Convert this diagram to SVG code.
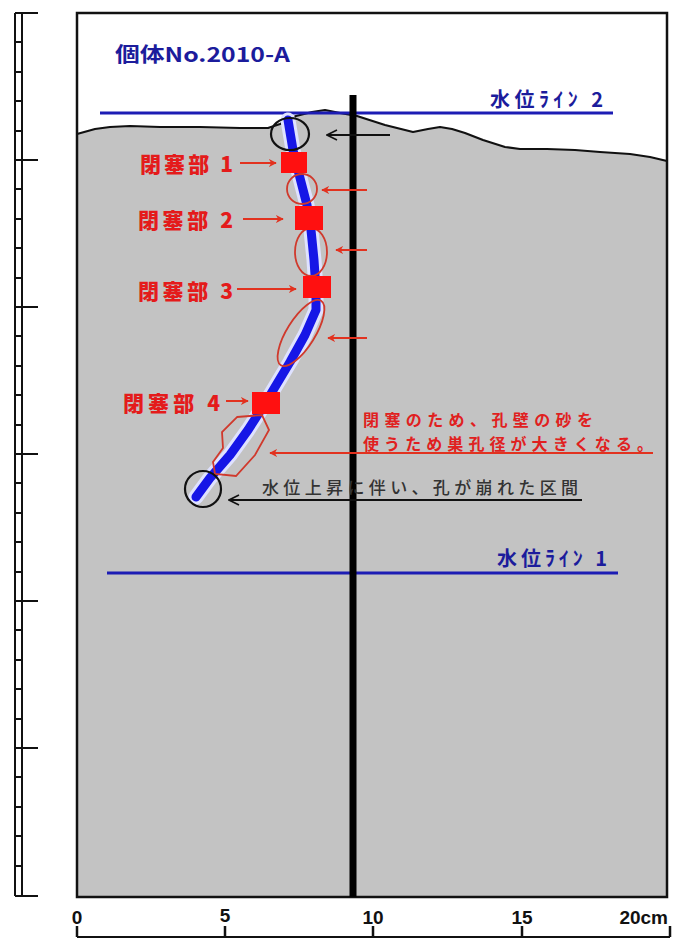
<svg xmlns="http://www.w3.org/2000/svg" width="675" height="940" viewBox="0 0 675 940">
  <style>
    .cjk { font-family: "Noto Sans CJK JP", "Noto Sans", sans-serif; }
    .num { font-family: "Liberation Sans", Arial, sans-serif; font-weight: bold; font-size: 19px; fill: #111; }
    .blue-lbl { fill: #1c1c9c; font-weight: bold; font-size: 20px; }
    .red-lbl { fill: #e41b1b; font-weight: 900; font-size: 21px; }
    .red-note { fill: #e02020; font-weight: bold; font-size: 16px; }
    .black-note { fill: #333; font-weight: 500; font-size: 17px; }
    .ruler { stroke: #111; stroke-width: 2; fill: none; }
    .wl { stroke: #1c1cb4; stroke-width: 3; }
    .red-ring { fill: none; stroke: #d0392c; stroke-width: 1.8; }
    .black-ring { fill: none; stroke: #111; stroke-width: 2.2; }
    .red-arrow { stroke: #e2321f; stroke-width: 2; fill: none; }
    .black-arrow { stroke: #111; stroke-width: 2; fill: none; }
    .plug { fill: #ff1010; }
  </style>
  <defs>
    <marker id="redHead" viewBox="0 0 10 10" refX="9" refY="5" markerWidth="4" markerHeight="4" orient="auto" markerUnits="strokeWidth">
      <path d="M0,0 L10,5 L0,10 L3,5 Z" fill="#e2321f"/>
    </marker>
    <marker id="blackHead" viewBox="0 0 12 12" refX="11" refY="6" markerWidth="6" markerHeight="6" orient="auto" markerUnits="strokeWidth">
      <path d="M1,1 L11,6 L1,11" fill="none" stroke="#111" stroke-width="1.6"/>
    </marker>
  </defs>

  <rect width="675" height="940" fill="#fff"/>

  <!-- depth ruler on the left -->
  <g id="depth-ruler" class="ruler">
    <line x1="15" y1="13" x2="15" y2="896"/>
    <line x1="22" y1="13" x2="22" y2="896"/>
    <line x1="15" y1="13" x2="38" y2="13"/>
    <line x1="15" y1="896" x2="38" y2="896"/>
    <path d="M15,160 H38 M15,307 H38 M15,454 H38 M15,601 H38 M15,748 H38"/>
    <path d="M15,42 H23 M15,72 H23 M15,101 H23 M15,131 H23
             M15,189 H23 M15,219 H23 M15,248 H23 M15,278 H23
             M15,336 H23 M15,366 H23 M15,395 H23 M15,425 H23
             M15,483 H23 M15,513 H23 M15,542 H23 M15,572 H23
             M15,630 H23 M15,660 H23 M15,689 H23 M15,719 H23
             M15,777 H23 M15,807 H23 M15,836 H23 M15,866 H23"/>
  </g>

  <!-- soil section -->
  <g id="soil">
    <path d="M77,134 L95,129 L110,127 L130,126 L160,127 L200,127 L240,128 L268,128 L280,124 L296,116 L312,112 L325,110 L340,113 L357,116 L385,125 L413,132 L428,129 L440,127 L452,129 L465,133 L483,140 L505,147 L520,149 L547,149 L575,150 L600,152 L630,154 L650,157 L667,161 L667,897 L77,897 Z" fill="#c3c3c3"/>
    <path d="M77,134 L95,129 L110,127 L130,126 L160,127 L200,127 L240,128 L268,128 L280,124 L296,116 L312,112 L325,110 L340,113 L357,116 L385,125 L413,132 L428,129 L440,127 L452,129 L465,133 L483,140 L505,147 L520,149 L547,149 L575,150 L600,152 L630,154 L650,157 L667,161" fill="none" stroke="#111" stroke-width="2.2" stroke-linejoin="round"/>
    <rect x="77" y="13" width="590" height="884" fill="none" stroke="#111" stroke-width="2.5"/>
  </g>

  <g id="title">
    <text class="cjk blue-lbl" x="115" y="62" textLength="175" lengthAdjust="spacingAndGlyphs">個体No.2010-A</text>
  </g>

  <!-- water level lines -->
  <g id="water-level-2">
    <line class="wl" x1="100" y1="113" x2="613" y2="113"/>
    <text class="cjk blue-lbl" x="490" y="107" textLength="113" lengthAdjust="spacing">水位ﾗｲﾝ 2</text>
  </g>
  <g id="water-level-1">
    <line class="wl" x1="107" y1="573" x2="618" y2="573"/>
    <text class="cjk blue-lbl" x="497" y="566" textLength="110" lengthAdjust="spacing">水位ﾗｲﾝ 1</text>
  </g>

  <!-- reference stake -->
  <g id="stake">
    <line x1="353" y1="95" x2="353" y2="897" stroke="#000" stroke-width="7"/>
  </g>

  <!-- burrow path -->
  <g id="burrow">
    <path d="M288,120 L293,150 L300,178 L307,205 L311,230 L314,260 L316,290 L316,310 L305,335 L290,362 L266,402 L248,430 L230,455 L210,478 L196,497" fill="none" stroke="#dfe2ff" stroke-width="15" stroke-linejoin="round" stroke-linecap="round"/>
    <path d="M288,120 L293,150 L300,178 L307,205 L311,230 L314,260 L316,290 L316,310 L305,335 L290,362 L266,402 L248,430 L230,455 L210,478 L196,497" fill="none" stroke="#1616e6" stroke-width="9" stroke-linejoin="round" stroke-linecap="round"/>
  </g>

  <!-- widened sections -->
  <g id="widened-sections">
    <ellipse class="red-ring" cx="302" cy="189" rx="15" ry="15"/>
    <ellipse class="red-ring" cx="311" cy="252" rx="16" ry="24"/>
    <ellipse class="red-ring" cx="301" cy="333" rx="14" ry="38" transform="rotate(32 301 333)"/>
    <polygon class="red-ring" points="237,417 262,415 269,430 255,455 236,476 215,474 213,462 223,448 222,432"/>
  </g>

  <!-- collapsed sections -->
  <g id="collapsed-top">
    <ellipse class="black-ring" cx="290" cy="134" rx="19" ry="16"/>
  </g>
  <g id="collapsed-bottom">
    <ellipse class="black-ring" cx="203" cy="489" rx="18" ry="18"/>
  </g>

  <!-- plugged points -->
  <g id="plug-1"><rect class="plug" x="281" y="152" width="26" height="21"/></g>
  <g id="plug-2"><rect class="plug" x="295" y="206" width="28" height="24"/></g>
  <g id="plug-3"><rect class="plug" x="303" y="276" width="28" height="22"/></g>
  <g id="plug-4"><rect class="plug" x="252" y="392" width="28" height="22"/></g>

  <g id="label-1"><text class="cjk red-lbl" x="140" y="172" textLength="93" lengthAdjust="spacing">閉塞部 1</text></g>
  <g id="label-2"><text class="cjk red-lbl" x="138" y="228" textLength="95" lengthAdjust="spacing">閉塞部 2</text></g>
  <g id="label-3"><text class="cjk red-lbl" x="138" y="299" textLength="95" lengthAdjust="spacing">閉塞部 3</text></g>
  <g id="label-4"><text class="cjk red-lbl" x="123" y="411" textLength="97" lengthAdjust="spacing">閉塞部 4</text></g>

  <g id="note-widening">
    <text class="cjk red-note" x="363" y="426" textLength="230" lengthAdjust="spacing">閉塞のため、孔壁の砂を</text>
    <text class="cjk red-note" x="363" y="450" textLength="290" lengthAdjust="spacing">使うため巣孔径が大きくなる。</text>
  </g>
  <g id="note-collapse">
    <text class="cjk black-note" x="262" y="494" textLength="316" lengthAdjust="spacing">水位上昇に伴い、孔が崩れた区間</text>
  </g>

  <!-- connectors -->
  <g id="connectors">
    <line class="red-arrow" x1="240" y1="163" x2="276" y2="163" marker-end="url(#redHead)"/>
    <line class="red-arrow" x1="243" y1="219" x2="283" y2="219" marker-end="url(#redHead)"/>
    <line class="red-arrow" x1="237" y1="289" x2="296" y2="289" marker-end="url(#redHead)"/>
    <line class="red-arrow" x1="226" y1="401" x2="248" y2="401" marker-end="url(#redHead)"/>
    <line class="red-arrow" x1="367" y1="190" x2="322" y2="190" marker-end="url(#redHead)"/>
    <line class="red-arrow" x1="367" y1="250" x2="336" y2="250" marker-end="url(#redHead)"/>
    <line class="red-arrow" x1="367" y1="338" x2="328" y2="338" marker-end="url(#redHead)"/>
    <line class="red-arrow" x1="653" y1="453" x2="270" y2="453" marker-end="url(#redHead)"/>
    <line class="black-arrow" x1="390" y1="135" x2="327" y2="135" marker-end="url(#blackHead)"/>
    <line class="black-arrow" x1="582" y1="500" x2="229" y2="500" marker-end="url(#blackHead)"/>
  </g>

  <!-- horizontal scale -->
  <g id="width-scale">
    <line x1="77" y1="937" x2="670" y2="937" stroke="#111" stroke-width="2"/>
    <path d="M77,926 V937 M225,926 V937 M373,926 V937 M522,926 V937 M670,926 V937" stroke="#111" stroke-width="2.5" fill="none"/>
    <text class="num" x="77" y="924" text-anchor="middle">0</text>
    <text class="num" x="225" y="922" text-anchor="middle">5</text>
    <text class="num" x="373" y="924" text-anchor="middle">10</text>
    <text class="num" x="522" y="924" text-anchor="middle">15</text>
    <text class="num" x="668" y="924" text-anchor="end">20cm</text>
  </g>
</svg>
